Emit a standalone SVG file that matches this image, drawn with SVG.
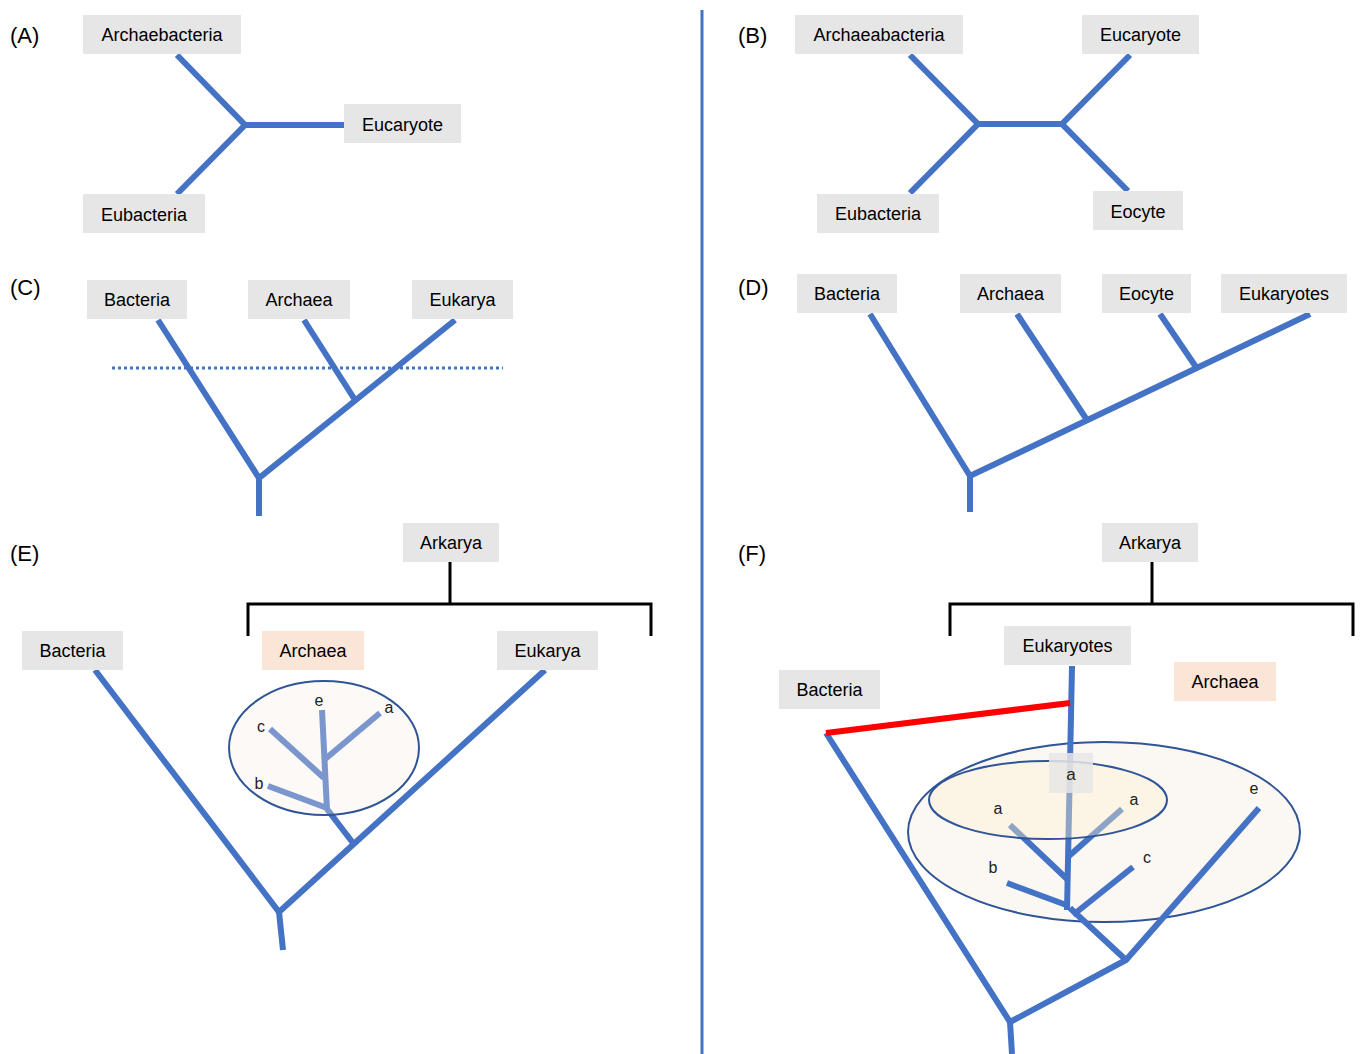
<svg xmlns="http://www.w3.org/2000/svg" width="1360" height="1054" viewBox="0 0 1360 1054">
<style>
text{font-family:"Liberation Sans",Arial,sans-serif;fill:#000}
.lbl{font-size:18px;text-anchor:middle}
.pan{font-size:22px}
.sm{font-size:16px;text-anchor:middle;fill:#222}
.box{fill:#E7E6E6}
.pk{fill:#FBE5D6}
.br{stroke:#4472C4;stroke-width:6;fill:none;stroke-linecap:butt;stroke-linejoin:miter}
.bk{stroke:#000;stroke-width:3;fill:none}
.el{stroke:#2F5597;stroke-width:2}
</style>
<rect width="1360" height="1054" fill="#fff"/>
<line x1="702" y1="10" x2="702" y2="1054" stroke="#4472C4" stroke-width="3"/>
<g id="panel-labels">
<text class="pan" x="10" y="43">(A)</text>
<text class="pan" x="738" y="43">(B)</text>
<text class="pan" x="10" y="295">(C)</text>
<text class="pan" x="738" y="295">(D)</text>
<text class="pan" x="10" y="561">(E)</text>
<text class="pan" x="738" y="561">(F)</text>
</g>
<g id="connectors">
<!-- A -->
<polyline class="br" points="177,55 245,125 177,194"/>
<line class="br" x1="245" y1="125" x2="344" y2="125"/>
<!-- B -->
<polyline class="br" points="910,55 978,124 910,193"/>
<line class="br" x1="978" y1="124" x2="1062" y2="124"/>
<polyline class="br" points="1130,55 1062,124 1128,191"/>
<!-- C -->
<polyline class="br" points="158,320 259,478 455,320"/>
<line class="br" x1="304" y1="320" x2="355" y2="400"/>
<line class="br" x1="259" y1="478" x2="259" y2="516"/>
<line x1="112" y1="368" x2="503" y2="368" stroke="#4472C4" stroke-width="3" stroke-dasharray="3 3"/>
<!-- D -->
<polyline class="br" points="870,314 970,476 1310,314"/>
<line class="br" x1="1017" y1="314" x2="1087" y2="420"/>
<line class="br" x1="1160" y1="314" x2="1196" y2="367"/>
<line class="br" x1="970" y1="476" x2="970" y2="512"/>
<!-- E -->
<polyline class="br" points="95,670 279,912 545,670"/>
<line class="br" x1="279" y1="912" x2="283" y2="950"/>
<line class="br" x1="327" y1="809" x2="353" y2="843"/>
<line class="br" x1="322" y1="710" x2="327" y2="810"/>
<line class="br" x1="268" y1="786" x2="327" y2="808"/>
<line class="br" x1="270" y1="729" x2="324" y2="778"/>
<line class="br" x1="380" y1="713" x2="324" y2="760"/>
<path class="bk" d="M450,562V604M248,636V604H651V636"/>
<!-- F -->
<path class="bk" d="M1152,562V604M950,636V604H1353V636"/>
</g>
<g id="ellipse-E">
<ellipse cx="324" cy="748" rx="95" ry="67" fill="#F7EBE0" fill-opacity="0.3" class="el"/>
</g>
<g id="F-tree">
<ellipse cx="1104" cy="832" rx="196" ry="90" fill="#FBF7F3" class="el"/>
<polyline class="br" points="826,733 1010,1022 1126,960 1259,808"/>
<line class="br" x1="1010" y1="1022" x2="1012" y2="1054"/>
<line class="br" x1="1126" y1="960" x2="1070" y2="908"/>
<line class="br" x1="1072" y1="666" x2="1067" y2="910"/>
<line class="br" x1="1007" y1="883" x2="1069" y2="906"/>
<line class="br" x1="1133" y1="867" x2="1073" y2="915"/>
<line class="br" x1="1010" y1="825" x2="1067" y2="879"/>
<line class="br" x1="1122" y1="809" x2="1069" y2="856"/>
<line x1="826" y1="733" x2="1070" y2="703" stroke="#FF0000" stroke-width="6"/>
<ellipse cx="1048" cy="800" rx="119" ry="39" fill="#FFEFCC" fill-opacity="0.4" class="el"/>
<rect x="1049" y="753" width="44" height="40" fill="#E7E6E6" fill-opacity="0.85"/>
<text class="sm" x="1071" y="780" style="font-size:17px">a</text>
<text class="sm" x="998" y="814">a</text>
<text class="sm" x="1134" y="805">a</text>
<text class="sm" x="993" y="873">b</text>
<text class="sm" x="1147" y="863">c</text>
<text class="sm" x="1254" y="794">e</text>
</g>
<g id="E-sub-labels">
<text class="sm" x="319" y="706">e</text>
<text class="sm" x="389" y="713">a</text>
<text class="sm" x="261" y="732">c</text>
<text class="sm" x="259" y="789">b</text>
</g>
<g id="n-A-archaebacteria"><rect class="box" x="83" y="15" width="158" height="39"/><text class="lbl" x="162" y="41">Archaebacteria</text></g>
<g id="n-A-eucaryote"><rect class="box" x="344" y="104" width="117" height="39"/><text class="lbl" x="402.5" y="131">Eucaryote</text></g>
<g id="n-A-eubacteria"><rect class="box" x="83" y="194" width="122" height="39"/><text class="lbl" x="144" y="221">Eubacteria</text></g>
<g id="n-B-archaeabacteria"><rect class="box" x="795" y="15" width="168" height="39"/><text class="lbl" x="879" y="41">Archaeabacteria</text></g>
<g id="n-B-eucaryote"><rect class="box" x="1082" y="15" width="117" height="39"/><text class="lbl" x="1140.5" y="41">Eucaryote</text></g>
<g id="n-B-eubacteria"><rect class="box" x="817" y="194" width="122" height="39"/><text class="lbl" x="878" y="220">Eubacteria</text></g>
<g id="n-B-eocyte"><rect class="box" x="1093" y="191" width="90" height="39"/><text class="lbl" x="1138" y="218">Eocyte</text></g>
<g id="n-C-bacteria"><rect class="box" x="87" y="280" width="100" height="39"/><text class="lbl" x="137" y="306">Bacteria</text></g>
<g id="n-C-archaea"><rect class="box" x="248" y="280" width="102" height="39"/><text class="lbl" x="299" y="306">Archaea</text></g>
<g id="n-C-eukarya"><rect class="box" x="412" y="280" width="101" height="39"/><text class="lbl" x="462.5" y="306">Eukarya</text></g>
<g id="n-D-bacteria"><rect class="box" x="797" y="274" width="100" height="39"/><text class="lbl" x="847" y="300">Bacteria</text></g>
<g id="n-D-archaea"><rect class="box" x="960" y="274" width="101" height="39"/><text class="lbl" x="1010.5" y="300">Archaea</text></g>
<g id="n-D-eocyte"><rect class="box" x="1102" y="274" width="89" height="39"/><text class="lbl" x="1146.5" y="300">Eocyte</text></g>
<g id="n-D-eukaryotes"><rect class="box" x="1221" y="274" width="126" height="39"/><text class="lbl" x="1284" y="300">Eukaryotes</text></g>
<g id="n-E-arkarya"><rect class="box" x="403" y="523" width="96" height="39"/><text class="lbl" x="451" y="549">Arkarya</text></g>
<g id="n-E-bacteria"><rect class="box" x="22" y="631" width="101" height="39"/><text class="lbl" x="72.5" y="657">Bacteria</text></g>
<g id="n-E-archaea"><rect class="pk" x="262" y="631" width="102" height="39"/><text class="lbl" x="313" y="657">Archaea</text></g>
<g id="n-E-eukarya"><rect class="box" x="497" y="631" width="101" height="39"/><text class="lbl" x="547.5" y="657">Eukarya</text></g>
<g id="n-F-arkarya"><rect class="box" x="1102" y="523" width="96" height="39"/><text class="lbl" x="1150" y="549">Arkarya</text></g>
<g id="n-F-eukaryotes"><rect class="box" x="1004" y="626" width="127" height="39"/><text class="lbl" x="1067.5" y="652">Eukaryotes</text></g>
<g id="n-F-bacteria"><rect class="box" x="779" y="670" width="101" height="39"/><text class="lbl" x="829.5" y="696">Bacteria</text></g>
<g id="n-F-archaea"><rect class="pk" x="1174" y="662" width="102" height="39"/><text class="lbl" x="1225" y="688">Archaea</text></g>
</svg>
